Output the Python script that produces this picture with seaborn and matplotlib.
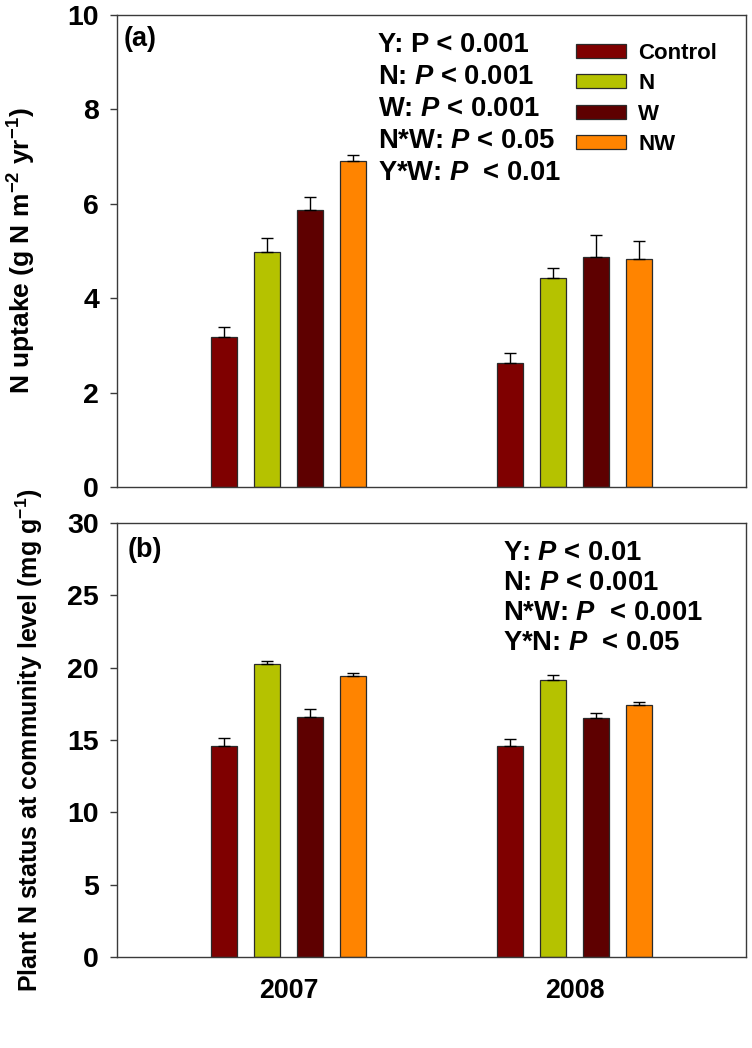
import pandas as pd
import matplotlib
matplotlib.use("Agg")
import matplotlib.pyplot as plt
import seaborn as sns

# values
years = ["2007", "2008"]
treatments = ["Control", "N", "W", "NW"]
uptake_2007 = [3.18, 4.98, 5.87, 6.90]
uptake_2008 = [2.63, 4.43, 4.87, 4.83]
uptake_se_2007 = [0.21, 0.29, 0.27, 0.13]
uptake_se_2008 = [0.21, 0.20, 0.47, 0.38]
nstatus_2007 = [14.60, 20.25, 16.59, 19.40]
nstatus_2008 = [14.56, 19.16, 16.50, 17.42]
nstatus_se_2007 = [0.55, 0.23, 0.57, 0.23]
nstatus_se_2008 = [0.51, 0.35, 0.34, 0.22]
colors = ["#7f0000", "#b5c200", "#5e0000", "#ff8400"]

stats_a = [r"Y: P < 0.001", r"N: $\mathit{P}$ < 0.001", r"W: $\mathit{P}$ < 0.001",
           r"N*W: $\mathit{P}$ < 0.05", r"Y*W: $\mathit{P}$  < 0.01"]
stats_b = [r"Y: $\mathit{P}$ < 0.01", r"N: $\mathit{P}$ < 0.001",
           r"N*W: $\mathit{P}$  < 0.001", r"Y*N: $\mathit{P}$  < 0.05"]

df = pd.DataFrame({
    "year": [y for y in years for _ in treatments],
    "treatment": treatments * 2,
    "uptake": uptake_2007 + uptake_2008,
    "uptake_se": uptake_se_2007 + uptake_se_2008,
    "nstatus": nstatus_2007 + nstatus_2008,
    "nstatus_se": nstatus_se_2007 + nstatus_se_2008,
})

sns.set_style("ticks")
plt.rcParams["font.family"] = ["Liberation Sans", "DejaVu Sans"]
plt.rcParams["font.weight"] = "bold"
plt.rcParams["text.color"] = "black"
plt.rcParams["axes.labelcolor"] = "black"
plt.rcParams["xtick.color"] = "black"
plt.rcParams["ytick.color"] = "black"
plt.rcParams["mathtext.fontset"] = "custom"
plt.rcParams["mathtext.rm"] = "Liberation Sans:bold"
plt.rcParams["mathtext.it"] = "Liberation Sans:bold:italic"
plt.rcParams["mathtext.bf"] = "Liberation Sans:bold"
plt.rcParams["mathtext.default"] = "rm"

fig = plt.figure(figsize=(7.52, 10.48), dpi=100)
ax_a = fig.add_axes([0.1556, 0.5353, 0.8364, 0.4504])
ax_b = fig.add_axes([0.1556, 0.0868, 0.8364, 0.4141])


def draw_panel(ax, col, se_col, show_legend):
    sns.barplot(data=df, x="year", y=col, hue="treatment", hue_order=treatments,
                palette=colors, saturation=1, width=0.6, gap=0.4, errorbar=None,
                edgecolor="#2a2a2a", linewidth=0.9, ax=ax, legend=show_legend)
    for cont, t in zip(ax.containers, treatments):
        sub = df[df["treatment"] == t]
        for bar, err in zip(cont, sub[se_col]):
            x = bar.get_x() + bar.get_width() / 2
            ax.errorbar(x, bar.get_height(), yerr=[[0], [err]], fmt="none",
                        ecolor="black", elinewidth=1, capsize=4.3, capthick=1)
    ax.set_xlim(-0.6, 1.6)
    for s in ax.spines.values():
        s.set_color("#3a3a3a")
        s.set_linewidth(1)
    ax.tick_params(axis="y", direction="out", length=5, width=1, pad=8,
                   labelsize=20.5, color="#3a3a3a", labelcolor="black")
    ax.tick_params(axis="x", length=0, pad=15, labelsize=19.3, labelcolor="black")
    ax.set_xlabel("")


draw_panel(ax_a, "uptake", "uptake_se", True)
draw_panel(ax_b, "nstatus", "nstatus_se", False)

ax_a.set_ylim(0, 10)
ax_a.set_yticks([0, 2, 4, 6, 8, 10])
ax_a.set_xticklabels([])
ax_a.set_ylabel(r"N uptake (g N m$^{-2}$ yr$^{-1}$)", fontsize=19, fontweight="bold")
ax_a.yaxis.set_label_coords(-0.125, 0.5)

ax_b.set_ylim(0, 30)
ax_b.set_yticks([0, 5, 10, 15, 20, 25, 30])
ax_b.set_ylabel(r"Plant N status at community level (mg g$^{-1}$)", fontsize=18,
                fontweight="bold")
ax_b.yaxis.set_label_coords(-0.115, 0.5)

sns.move_legend(ax_a, "upper left", bbox_to_anchor=(0.73, 0.941), frameon=False,
                title=None, fontsize=16, handlelength=2.25, handleheight=0.6,
                handletextpad=0.55, labelspacing=0.42, borderpad=0, borderaxespad=0)

for i, s in enumerate(stats_a):
    ax_a.text(0.415, 0.937 - i * 0.0678, s, transform=ax_a.transAxes,
              fontsize=19.7, fontweight="bold", va="center", ha="left")
for i, s in enumerate(stats_b):
    ax_b.text(0.614, 0.932 - i * 0.0695, s, transform=ax_b.transAxes,
              fontsize=19.7, fontweight="bold", va="center", ha="left")

ax_a.text(0.01, 0.949, "(a)", transform=ax_a.transAxes, fontsize=19.5,
          fontweight="bold", va="center", ha="left")
ax_b.text(0.0175, 0.938, "(b)", transform=ax_b.transAxes, fontsize=19.5,
          fontweight="bold", va="center", ha="left")

fig.savefig("out.png", dpi=100)
